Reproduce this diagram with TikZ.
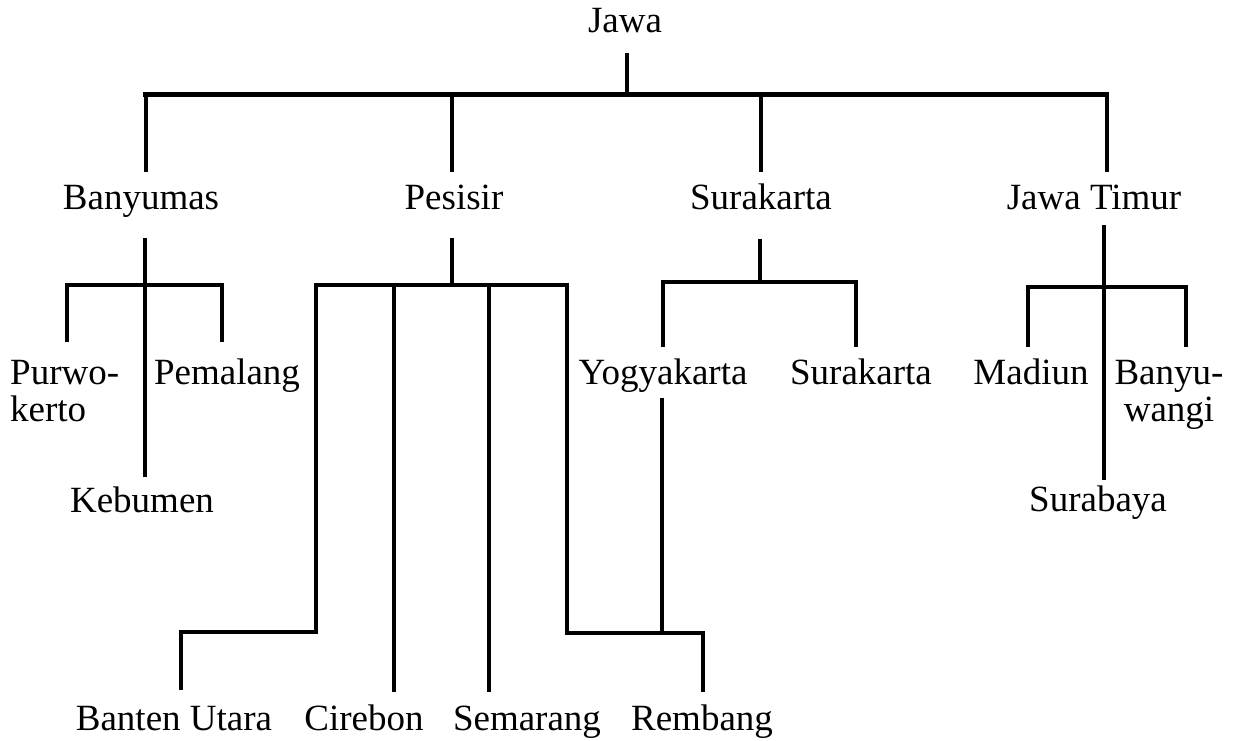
\documentclass[tikz,border=0pt]{standalone}
\usepackage{fontspec}
\setmainfont{Liberation Serif}
\begin{document}
\begin{tikzpicture}[x=1pt,y=-1pt,
  lbl/.style={inner sep=0pt, anchor=base, font=\fontsize{37}{37}\selectfont},
  ln/.style={line width=4.2pt, line join=miter},
  topbar/.style={line width=5pt}]
\useasboundingbox (0,0) rectangle (1239,741);
% labels
\node[lbl] (jawa) at (625,33) {Jawa};
\node[lbl] (banyumas) at (141,209) {Banyumas};
\node[lbl] (pesisir) at (454,209) {Pesisir};
\node[lbl] (surakarta) at (761,209) {Surakarta};
\node[lbl] (jatim) at (1094,209) {Jawa Timur};
\node[lbl, anchor=base west, align=left] (purwokerto) at (10,421) {Purwo-\\kerto};
\node[lbl] (pemalang) at (227,384) {Pemalang};
\node[lbl] (kebumen) at (142,512) {Kebumen};
\node[lbl] (yogya) at (663,384) {Yogyakarta};
\node[lbl] (surakartab) at (861,384) {Surakarta};
\node[lbl] (madiun) at (1031,384) {Madiun};
\node[lbl, align=center] (banyuwangi) at (1169,421) {Banyu-\\wangi};
\node[lbl] (surabaya) at (1098,511) {Surabaya};
\node[lbl] (banten) at (174,730) {Banten Utara};
\node[lbl] (cirebon) at (364,730) {Cirebon};
\node[lbl] (semarang) at (527,730) {Semarang};
\node[lbl] (rembang) at (702,730) {Rembang};
% coordinates
\coordinate (jawaS) at (627,53);
\coordinate (jawaJ) at (627,95);
\coordinate (barL) at (143,95);
\coordinate (barR) at (1109,95);
\coordinate (d1t) at (146,95);  \coordinate (d1b) at (146,172);
\coordinate (d2t) at (452,95);  \coordinate (d2b) at (452,172);
\coordinate (d3t) at (761,95);  \coordinate (d3b) at (761,172);
\coordinate (d4t) at (1107,95); \coordinate (d4b) at (1107,172);
% Banyumas
\coordinate (bnT) at (145,238); \coordinate (bnB) at (145,477);
\coordinate (bnL1) at (67,342); \coordinate (bnL2) at (67,285);
\coordinate (bnR1) at (222,285); \coordinate (bnR2) at (222,342);
% Pesisir
\coordinate (psT) at (452,238); \coordinate (psJ) at (452,285);
\coordinate (ps1) at (181,690); \coordinate (ps2) at (181,632); \coordinate (ps3) at (316,632);
\coordinate (ps4) at (316,285); \coordinate (ps5) at (567,285); \coordinate (ps6) at (567,633);
\coordinate (ps7) at (703,633); \coordinate (ps8) at (703,692);
\coordinate (ciT) at (394,285); \coordinate (ciB) at (394,692);
\coordinate (smT) at (489,285); \coordinate (smB) at (489,692);
% Yogyakarta
\coordinate (ygT) at (662,398); \coordinate (ygB) at (662,633);
% Surakarta
\coordinate (skT) at (760,239); \coordinate (skJ) at (760,282);
\coordinate (sk1) at (663,347); \coordinate (sk2) at (663,282);
\coordinate (sk3) at (856,282); \coordinate (sk4) at (856,347);
% Jawa Timur
\coordinate (jtT) at (1104,225); \coordinate (jtB) at (1104,480);
\coordinate (jt1) at (1028,347); \coordinate (jt2) at (1028,287);
\coordinate (jt3) at (1186,287); \coordinate (jt4) at (1186,347);
% lines
\draw[ln] (jawaS) -- (jawaJ);
\draw[topbar] (barL) -- (barR);
\draw[ln] (d1t) -- (d1b);
\draw[ln] (d2t) -- (d2b);
\draw[ln] (d3t) -- (d3b);
\draw[ln] (d4t) -- (d4b);
\draw[ln] (bnT) -- (bnB);
\draw[ln] (bnL1) -- (bnL2) -- (bnR1) -- (bnR2);
\draw[ln] (psT) -- (psJ);
\draw[ln] (ps1) -- (ps2) -- (ps3) -- (ps4) -- (ps5) -- (ps6) -- (ps7) -- (ps8);
\draw[ln] (ciT) -- (ciB);
\draw[ln] (smT) -- (smB);
\draw[ln] (ygT) -- (ygB);
\draw[ln] (skT) -- (skJ);
\draw[ln] (sk1) -- (sk2) -- (sk3) -- (sk4);
\draw[ln] (jtT) -- (jtB);
\draw[ln] (jt1) -- (jt2) -- (jt3) -- (jt4);
\end{tikzpicture}
\end{document}
